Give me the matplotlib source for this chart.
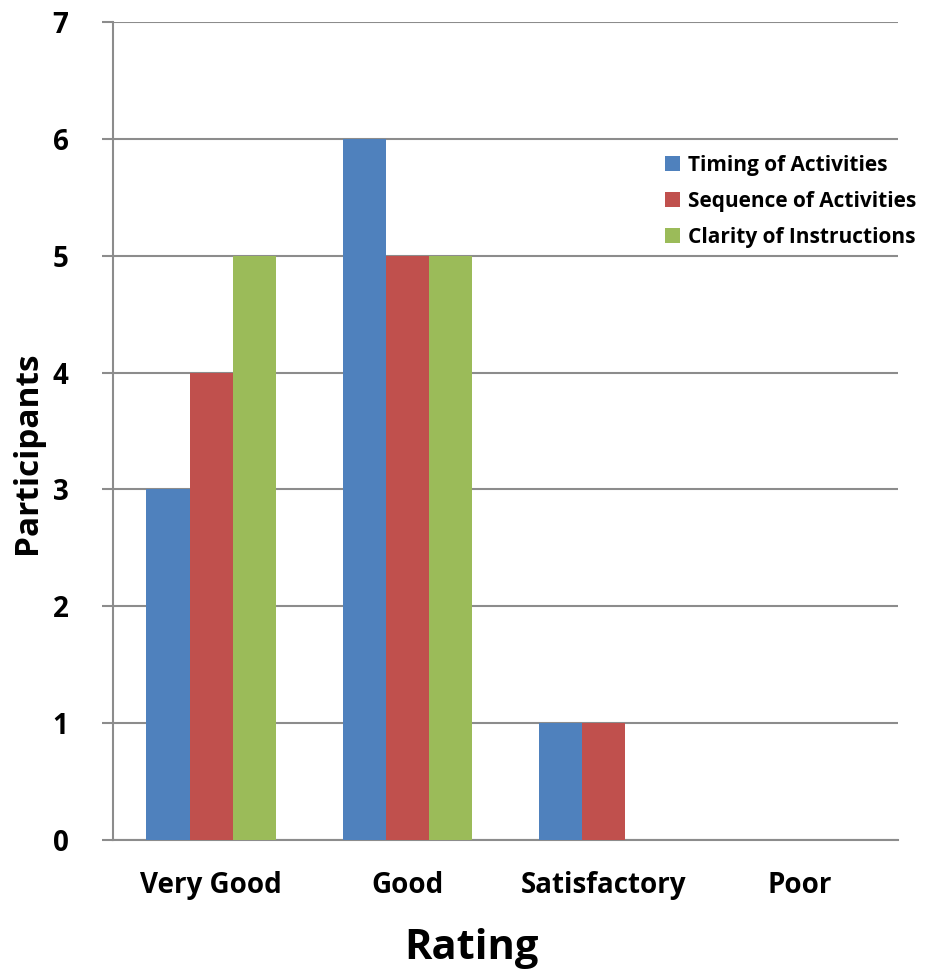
import numpy as np
import matplotlib.pyplot as plt

categories = ["Very Good", "Good", "Satisfactory", "Poor"]
series_names = ["Timing of Activities", "Sequence of Activities", "Clarity of Instructions"]
timing = [3, 6, 1, 0]
sequence = [4, 5, 1, 0]
clarity = [5, 5, 0, 0]
colors = ["#4F81BD", "#C0504D", "#9BBB59"]

plt.rcParams['font.family'] = ['Open Sans', 'DejaVu Sans']
plt.rcParams['font.weight'] = 'bold'

fig = plt.figure(figsize=(9.31, 9.74), dpi=100)
ax = fig.add_axes([0.1214, 0.1376, 0.843, 0.8398])

x = np.arange(len(categories))
w = 0.22
for i, (vals, name) in enumerate(zip([timing, sequence, clarity], series_names)):
    ax.bar(x + (i - 1) * w, vals, width=w, color=colors[i], label=name, zorder=3)

ax.set_xlim(-0.5, 3.5)
ax.set_ylim(0, 7)
ax.set_yticks(range(8))
ax.set_xticks(x)
ax.set_xticklabels(categories)

grid_c = "#8c8c8c"
ax.grid(axis='y', color=grid_c, linewidth=1.5, zorder=0)
for s in ['top', 'right']:
    ax.spines[s].set_visible(False)
for s in ['left', 'bottom']:
    ax.spines[s].set_color(grid_c)
    ax.spines[s].set_linewidth(1.5)

ax.tick_params(axis='y', length=8, width=1.5, color=grid_c, labelsize=20, pad=24)
ax.tick_params(axis='x', length=0, labelsize=20, pad=22)
for lbl in ax.get_xticklabels() + ax.get_yticklabels():
    lbl.set_fontweight('bold')

ax.set_ylabel("Participants", fontsize=24, fontweight='bold')
ax.yaxis.set_label_coords(-0.088, 0.474)
ax.set_xlabel("Rating", fontsize=30, fontweight='bold')
ax.xaxis.set_label_coords(0.457, -0.108)

leg = ax.legend(loc='upper left', bbox_to_anchor=(0.693, 0.848), frameon=False,
                prop={'size': 15, 'weight': 'bold'}, handlelength=0.7, handleheight=0.7,
                handletextpad=0.4, labelspacing=0.72, borderaxespad=0)

fig.savefig("out.png", dpi=100)
